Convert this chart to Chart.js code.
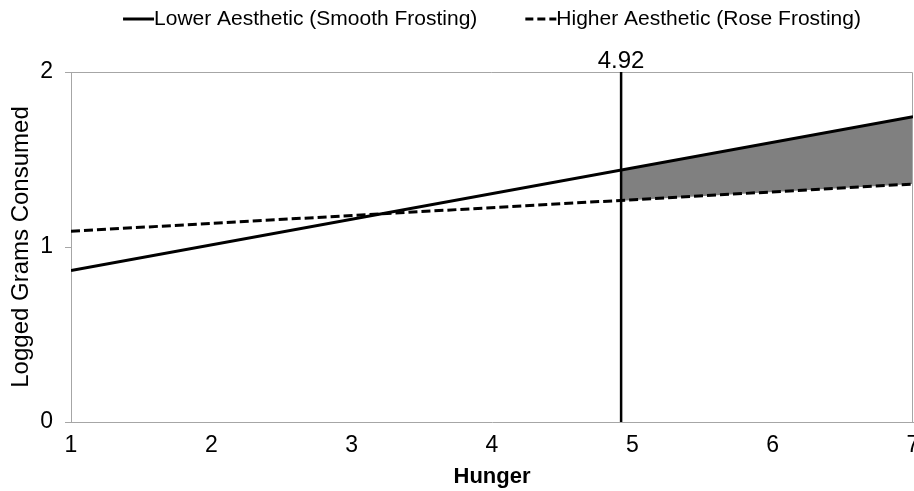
<!DOCTYPE html>
<html>
<head>
<meta charset="utf-8">
<script src="https://cdn.jsdelivr.net/npm/chart.js@4"></script>
<style>
  html, body { margin: 0; padding: 0; background: #ffffff; }
  #wrap { width: 914px; height: 491px; }
</style>
</head>
<body>
<div id="wrap"><canvas id="c" width="914" height="491"></canvas></div>
<script>
// ---- data ----
const hungerEnds = [1, 7];
const lowerAesthetic = [0.865, 1.745];     // Smooth frosting
const higherAesthetic = [1.09, 1.36];      // Rose frosting
const jnValue = 4.92;                      // Johnson-Neyman point
const jnLabel = "4.92";
const regionX = [4.92, 7];
const regionLower = [1.44, 1.745];
const regionHigher = [1.265, 1.36];
const yTicks = [0, 1, 2];
const xTicks = [1, 2, 3, 4, 5, 6, 7];
const seriesNames = ["Lower Aesthetic (Smooth Frosting)", "Higher Aesthetic (Rose Frosting)"];

const pts = (xs, ys) => xs.map((x, i) => ({ x: x, y: ys[i] }));

const FONT = "'Liberation Sans', Arial, sans-serif";

const frameAndLabels = {
  id: 'frameAndLabels',
  beforeDatasetsDraw(chart) {
    const { ctx, chartArea: a } = chart;
    ctx.save();
    ctx.strokeStyle = '#a6a6a6';
    ctx.lineWidth = 1;
    ctx.beginPath();
    ctx.moveTo(a.left, a.top + 0.5);
    ctx.lineTo(a.right - 0.5, a.top + 0.5);
    ctx.lineTo(a.right - 0.5, a.bottom);
    ctx.stroke();
    ctx.restore();
  },
  afterDraw(chart) {
    const { ctx, chartArea: a, scales } = chart;
    ctx.save();
    // JN label
    ctx.fillStyle = '#000';
    ctx.font = "24px " + FONT;
    ctx.textAlign = 'center';
    ctx.textBaseline = 'alphabetic';
    ctx.fillText(jnLabel, scales.x.getPixelForValue(jnValue), a.top - 4);
    // legend
    ctx.font = "21px " + FONT;
    const lineW = 31, gap = 48;
    const w1 = ctx.measureText(seriesNames[0]).width;
    const w2 = ctx.measureText(seriesNames[1]).width;
    const total = lineW + w1 + gap + lineW + w2;
    let x = (a.left + a.right) / 2 - total / 2;
    const y = 19;
    ctx.strokeStyle = '#000';
    ctx.lineWidth = 3;
    ctx.beginPath(); ctx.setLineDash([]); ctx.moveTo(x, y); ctx.lineTo(x + lineW, y); ctx.stroke();
    ctx.textAlign = 'left';
    ctx.textBaseline = 'middle';
    ctx.fillText(seriesNames[0], x + lineW, y);
    x += lineW + w1 + gap;
    ctx.beginPath(); ctx.setLineDash([8, 4]); ctx.moveTo(x, y); ctx.lineTo(x + lineW, y); ctx.stroke();
    ctx.setLineDash([]);
    ctx.fillText(seriesNames[1], x + lineW, y);
    ctx.restore();
  }
};

new Chart(document.getElementById('c'), {
  type: 'scatter',
  data: {
    datasets: [
      {
        label: 'regionTop',
        data: pts(regionX, regionLower),
        showLine: true,
        borderWidth: 0,
        pointRadius: 0,
        backgroundColor: '#808080',
        fill: '+1',
        order: 5
      },
      {
        label: 'regionBottom',
        data: pts(regionX, regionHigher),
        showLine: true,
        borderWidth: 0,
        pointRadius: 0,
        fill: false,
        order: 5
      },
      {
        label: seriesNames[0],
        data: pts(hungerEnds, lowerAesthetic),
        showLine: true,
        borderColor: '#000',
        borderWidth: 3,
        pointRadius: 0,
        fill: false,
        order: 1
      },
      {
        label: seriesNames[1],
        data: pts(hungerEnds, higherAesthetic),
        showLine: true,
        borderColor: '#000',
        borderWidth: 3,
        borderDash: [9, 4],
        pointRadius: 0,
        fill: false,
        order: 1
      },
      {
        label: 'jn',
        data: [{ x: jnValue, y: yTicks[0] }, { x: jnValue, y: yTicks[yTicks.length - 1] }],
        showLine: true,
        borderColor: '#000',
        borderWidth: 2.5,
        pointRadius: 0,
        fill: false,
        order: 0
      }
    ]
  },
  options: {
    responsive: false,
    animation: false,
    events: [],
    layout: { padding: { top: 72, right: 1, bottom: 0, left: 4 } },
    plugins: {
      legend: { display: false },
      tooltip: { enabled: false },
      filler: { drawTime: 'beforeDatasetsDraw' }
    },
    scales: {
      x: {
        type: 'linear',
        min: xTicks[0],
        max: xTicks[xTicks.length - 1],
        afterBuildTicks: (s) => { s.ticks = xTicks.map(v => ({ value: v })); },
        afterFit: (s) => { s.paddingLeft = 0; s.paddingRight = 0; s.height = 69; },
        grid: { display: true, drawOnChartArea: false, drawTicks: false },
        border: { display: true, color: '#a6a6a6', width: 1 },
        ticks: { color: '#000', font: { family: FONT, size: 23 }, padding: 10, maxRotation: 0 },
        title: { display: true, text: 'Hunger', color: '#000', font: { family: FONT, size: 22, weight: 'bold' }, padding: { top: 0, bottom: 1 } }
      },
      y: {
        type: 'linear',
        min: yTicks[0],
        max: yTicks[yTicks.length - 1],
        afterBuildTicks: (s) => { s.ticks = yTicks.map(v => ({ value: v })); },
        afterFit: (s) => { s.paddingTop = 0; s.paddingBottom = 0; s.width = 67; },
        grid: { display: true, drawOnChartArea: false, drawTicks: true, tickLength: 6, color: '#a6a6a6' },
        border: { display: true, color: '#a6a6a6', width: 1 },
        ticks: { color: '#000', font: { family: FONT, size: 23 }, padding: 12 },
        title: { display: true, text: 'Logged Grams Consumed', color: '#000', font: { family: FONT, size: 24 }, padding: { top: 3, bottom: 0 } }
      }
    }
  },
  plugins: [frameAndLabels]
});
</script>
</body>
</html>
